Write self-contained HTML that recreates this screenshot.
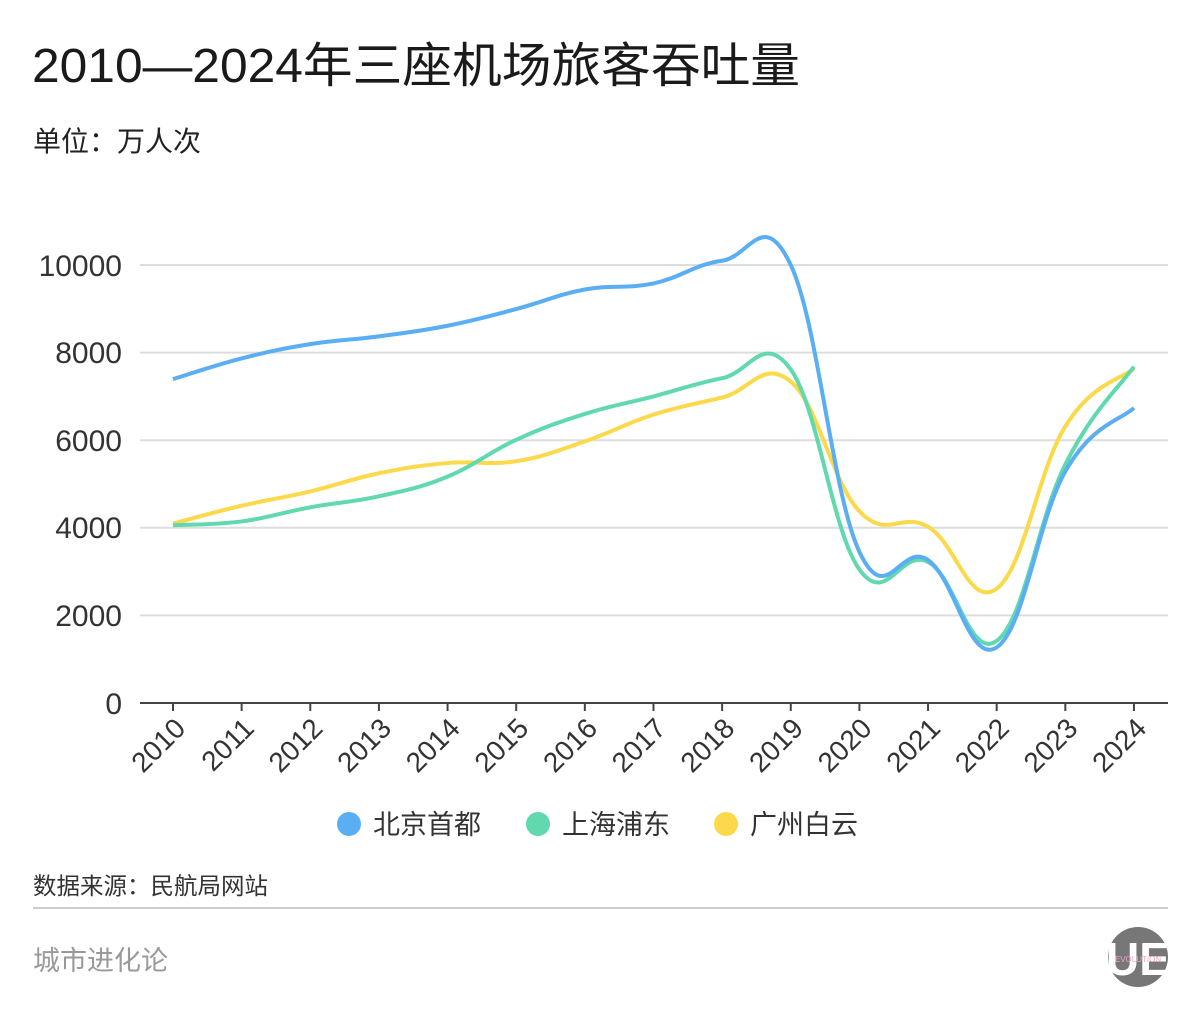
<!DOCTYPE html>
<html><head><meta charset="utf-8"><style>
body{margin:0;width:1200px;height:1020px;background:#fff;overflow:hidden;font-family:"Liberation Sans","Noto Sans CJK SC",sans-serif;color:#222}
</style></head><body>
<svg id="s" width="1200" height="1020" xmlns="http://www.w3.org/2000/svg" style="position:absolute;left:0;top:0" font-family="Liberation Sans, Noto Sans CJK SC, sans-serif">
<text x="32" y="82" font-size="48" fill="#1a1a1a" textLength="768" lengthAdjust="spacingAndGlyphs">2010—2024年三座机场旅客吞吐量</text>
<text x="33" y="151" font-size="28" fill="#222">单位：万人次</text>
<g stroke="#ddd" stroke-width="2">
<line x1="140" x2="1168" y1="265" y2="265"/><line x1="140" x2="1168" y1="352.6" y2="352.6"/><line x1="140" x2="1168" y1="440.2" y2="440.2"/><line x1="140" x2="1168" y1="527.8" y2="527.8"/><line x1="140" x2="1168" y1="615.4" y2="615.4"/>
</g>
<g font-size="30" fill="#333" text-anchor="end">
<text x="122" y="276">10000</text><text x="122" y="363">8000</text><text x="122" y="451">6000</text><text x="122" y="538">4000</text><text x="122" y="626">2000</text><text x="122" y="714">0</text>
</g>
<line x1="140" x2="1168" y1="703" y2="703" stroke="#444" stroke-width="2"/>
<g id="ticks"></g>
<g id="lines"></g>
<g font-size="27" fill="#333">
<circle cx="349" cy="824" r="12" fill="#5aaef3"/><text x="373" y="834">北京首都</text>
<circle cx="538" cy="824" r="12" fill="#5fd9ad"/><text x="562" y="834">上海浦东</text>
<circle cx="726" cy="824" r="12" fill="#fbd94a"/><text x="750" y="834">广州白云</text>
</g>
<text x="33" y="894" font-size="23.5" fill="#333">数据来源：民航局网站</text>
<line x1="33" x2="1168" y1="908" y2="908" stroke="#ccc" stroke-width="2"/>
<text x="33" y="970" font-size="27" fill="#999">城市进化论</text>
<circle cx="1138" cy="957" r="30" fill="#777"/>
<text x="1138" y="975" font-size="46" fill="#fff" text-anchor="middle" font-weight="bold">UE</text>
<text x="1138" y="962" font-size="8" fill="#f3a6c6" text-anchor="middle">EVOLUTION</text>
</svg>
<script>
var ns="http://www.w3.org/2000/svg";
function X(i){return 173+i*68.64}
function Y(v){return 703-v*0.0438}
var tg=document.getElementById('ticks'),lg=document.getElementById('lines');
for(var i=0;i<15;i++){
 var l=document.createElementNS(ns,'line');l.setAttribute('x1',X(i));l.setAttribute('x2',X(i));l.setAttribute('y1',703);l.setAttribute('y2',711);l.setAttribute('stroke','#444');l.setAttribute('stroke-width','2');tg.appendChild(l);
 var t=document.createElementNS(ns,'text');t.setAttribute('font-size','28');t.setAttribute('fill','#333');t.setAttribute('text-anchor','end');
 t.setAttribute('transform','translate('+(X(i)+14)+',730) rotate(-45)');t.textContent=2010+i;tg.appendChild(t);
}
var D=[
["#fbd94a",[4098,4504,4831,5245,5478,5521,5973,6584,6974,7339,4377,4025,2611,6317,7637]],
["#5fd9ad",[4058,4145,4468,4719,5168,6009,6600,7000,7415,7615,3048,3221,1418,5447,7679]],
["#5aaef3",[7395,7867,8193,8371,8613,8994,9440,9579,10098,10001,3451,3264,1270,5288,6736]]];
D.forEach(function(s){
 var p=s[1].map(function(v,i){return [X(i),Y(v)]});
 var d="M"+p[0][0]+","+p[0][1];
 for(var i=0;i<p.length-1;i++){
  var p0=p[i-1]||p[i],p1=p[i],p2=p[i+1],p3=p[i+2]||p2,k=0.2;
  d+=" C"+(p1[0]+(p2[0]-p0[0])*k)+","+(p1[1]+(p2[1]-p0[1])*k)+" "+(p2[0]-(p3[0]-p1[0])*k)+","+(p2[1]-(p3[1]-p1[1])*k)+" "+p2[0]+","+p2[1];
 }
 var e=document.createElementNS(ns,'path');e.setAttribute('d',d);e.setAttribute('fill','none');e.setAttribute('stroke',s[0]);e.setAttribute('stroke-width','4');lg.appendChild(e);
});
</script>
</body></html>
